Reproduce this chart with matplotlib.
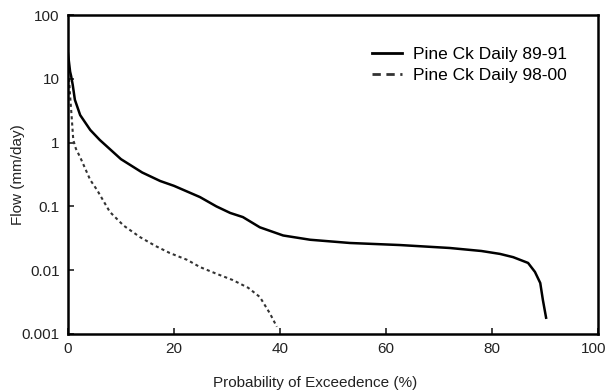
import matplotlib.pyplot as plt
from matplotlib.lines import Line2D
from matplotlib.transforms import ScaledTranslation

plt.rcParams['font.family'] = ['Liberation Sans', 'DejaVu Sans']

# Pine Ck Daily 89-91 (solid)
x_8991 = [0.0, 0.2, 0.4, 0.6, 0.9, 1.3, 2.3, 4.2, 6.0, 10.0, 14.0, 17.4, 20.0, 24.9,
          28.0, 30.6, 33.0, 36.2, 40.6, 45.7, 53.2, 62.6, 72.0, 78.0, 81.5, 84.0,
          86.8, 88.1, 89.1, 89.6, 90.2]
q_8991 = [25.0, 18.0, 13.0, 11.0, 8.0, 4.7, 2.7, 1.58, 1.1, 0.55, 0.34, 0.25, 0.21, 0.14,
          0.10, 0.079, 0.068, 0.047, 0.035, 0.030, 0.0267, 0.0248, 0.0223, 0.020, 0.018,
          0.016, 0.013, 0.0094, 0.0063, 0.0034, 0.0018]

# Pine Ck Daily 98-00 (dashed)
x_9800 = [0.2, 0.4, 0.7, 1.0, 1.5, 2.3, 4.2, 5.5, 7.9, 10.5, 13.6, 16.5, 19.2, 22.5,
          24.9, 28.0, 31.1, 34.0, 36.2, 38.1, 39.4]
q_9800 = [10.0, 5.5, 2.5, 1.1, 0.8, 0.59, 0.26, 0.18, 0.082, 0.05, 0.033, 0.024, 0.0186,
          0.0145, 0.0112, 0.0088, 0.007, 0.0053, 0.0038, 0.0021, 0.0013]

fig = plt.figure(figsize=(6.08, 3.91), dpi=100)
ax = fig.add_axes([0.1118, 0.1458, 0.8718, 0.8158])

ax.plot(x_8991, q_8991, color='black', linewidth=1.8)
ax.plot(x_9800, q_9800, color='#333333', linewidth=1.5, linestyle=(0, (1.5, 1.5)))

ax.set_yscale('log')
ax.set_xlim(0, 100)
ax.set_ylim(0.001, 100)
ax.set_xticks([0, 20, 40, 60, 80, 100])
ax.set_yticks([0.001, 0.01, 0.1, 1, 10, 100])
ax.set_yticklabels(['0.001', '0.01', '0.1', '1', '10', '100'])
ax.minorticks_off()
ax.tick_params(direction='in', length=4, width=1.2, labelsize=11, colors='#222222', pad=6)
for s in ax.spines.values():
    s.set_linewidth(1.8)

# keep the last x tick label inside the figure
last = ax.get_xticklabels()[-1]
last.set_transform(last.get_transform() + ScaledTranslation(-4 / 100, 0, fig.dpi_scale_trans))

ax.set_xlabel('Probability of Exceedence (%)', fontsize=11, color='#222222')
ax.xaxis.set_label_coords(0.466, -0.132)
ax.set_ylabel('Flow (mm/day)', fontsize=11, color='#222222')
ax.yaxis.set_label_coords(-0.081, 0.5)

handles = [Line2D([], [], color='black', linewidth=2),
           Line2D([], [], color='#333333', linewidth=2, linestyle=(0, (3, 2)))]
ax.legend(handles, ['Pine Ck Daily 89-91', 'Pine Ck Daily 98-00'], frameon=False,
          fontsize=12.5, loc='upper left', bbox_to_anchor=(0.544, 0.95),
          handlelength=1.75, handletextpad=0.6, labelspacing=0.35)

fig.savefig('out.png', dpi=100)
